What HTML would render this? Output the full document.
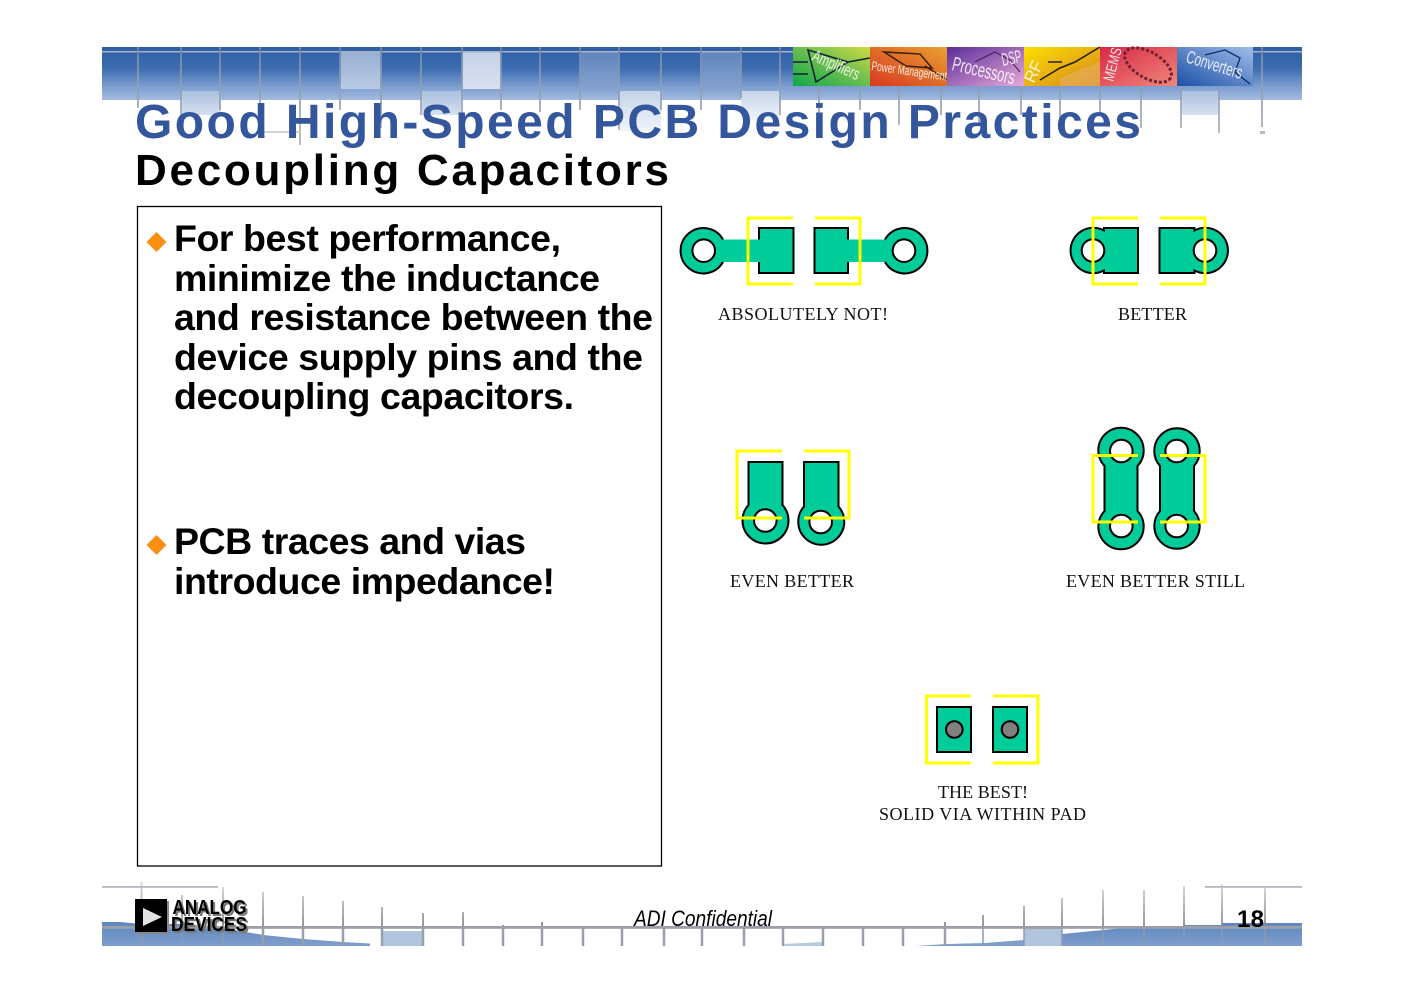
<!DOCTYPE html>
<html>
<head>
<meta charset="utf-8">
<style>
html,body{margin:0;padding:0;background:#fff;width:1403px;height:992px;overflow:hidden}
svg{display:block}
.sans{font-family:"Liberation Sans",sans-serif}
.serif{font-family:"Liberation Serif",serif;font-size:18px;fill:#111}
.b{font-family:"Liberation Sans",sans-serif;font-weight:bold;font-size:37.5px;fill:#000}
.cu{fill:#00cc99;stroke:#000;stroke-width:2}
.fill{fill:#00cc99;stroke:none}
.edge{fill:none;stroke:#000;stroke-width:2}
.hole{fill:#fff;stroke:#000;stroke-width:2}
.y{fill:none;stroke:#ffff00;stroke-width:3}
.t{font-family:"Liberation Sans",sans-serif;fill:#fff;opacity:.85}
</style>
</head>
<body>
<svg width="1403" height="992" viewBox="0 0 1403 992" xmlns="http://www.w3.org/2000/svg">
<defs>
<linearGradient id="ban" x1="0" y1="0" x2="0" y2="1">
<stop offset="0" stop-color="#2d5ea6"/><stop offset=".4" stop-color="#3d6cb0"/><stop offset=".75" stop-color="#7d9ed0"/><stop offset="1" stop-color="#a3bbde"/>
</linearGradient>
<linearGradient id="sqA" x1="0" y1="0" x2="0" y2="1"><stop offset="0" stop-color="#98aed2"/><stop offset="1" stop-color="#b9cbe4"/></linearGradient>
<linearGradient id="sqB" x1="0" y1="0" x2="0" y2="1"><stop offset="0" stop-color="#c6d2e8"/><stop offset="1" stop-color="#d8e0ef"/></linearGradient>
<linearGradient id="sqC" x1="0" y1="0" x2="0" y2="1"><stop offset="0" stop-color="#5f84bc"/><stop offset="1" stop-color="#86a3cf"/></linearGradient>
<linearGradient id="sqD" x1="0" y1="0" x2="0" y2="1"><stop offset="0" stop-color="#a9bfdf"/><stop offset="1" stop-color="#d6e0ef"/></linearGradient>
<linearGradient id="sqE" x1="0" y1="0" x2="0" y2="1"><stop offset="0" stop-color="#c6d4e8"/><stop offset="1" stop-color="#f0f4fa"/></linearGradient>
<linearGradient id="ln" gradientUnits="userSpaceOnUse" x1="0" y1="882" x2="0" y2="927"><stop offset="0" stop-color="#d8dadd"/><stop offset="1" stop-color="#85888e"/></linearGradient>
<linearGradient id="hang" gradientUnits="userSpaceOnUse" x1="0" y1="47" x2="0" y2="135"><stop offset="0" stop-color="#6f88ae"/><stop offset=".6" stop-color="#98a5b8"/><stop offset="1" stop-color="#b0b5bc"/></linearGradient>
<linearGradient id="fblue" gradientUnits="userSpaceOnUse" x1="0" y1="922" x2="0" y2="946"><stop offset="0" stop-color="#5c86be"/><stop offset="1" stop-color="#7f9fcb"/></linearGradient>
<linearGradient id="th1" x1="0" y1="1" x2="1" y2="0"><stop offset="0" stop-color="#10a848"/><stop offset=".55" stop-color="#70c050"/><stop offset="1" stop-color="#d0dc40"/></linearGradient>
<linearGradient id="th2" x1="0" y1="1" x2="1" y2="0"><stop offset="0" stop-color="#d83820"/><stop offset="1" stop-color="#e8a030"/></linearGradient>
<linearGradient id="th3" x1="0" y1="0" x2="1" y2="1"><stop offset="0" stop-color="#5a2d98"/><stop offset="1" stop-color="#e8a8d8"/></linearGradient>
<linearGradient id="th4" x1="0" y1="0" x2="1" y2="1"><stop offset="0" stop-color="#fbe000"/><stop offset="1" stop-color="#d88420"/></linearGradient>
<linearGradient id="th5" x1="0" y1="0" x2="1" y2="1"><stop offset="0" stop-color="#d82848"/><stop offset="1" stop-color="#f08878"/></linearGradient>
<linearGradient id="th6" x1="0" y1="1" x2="1" y2="0"><stop offset="0" stop-color="#1c50a8"/><stop offset="1" stop-color="#a0bce8"/></linearGradient>
</defs>

<!-- Header banner -->
<rect x="102" y="47" width="1200" height="53" fill="url(#ban)"/>
<rect x="341" y="52" width="40" height="37" fill="url(#sqA)"/>
<rect x="462" y="52" width="39" height="37" fill="url(#sqB)"/>
<rect x="581" y="52" width="38" height="37" fill="url(#sqC)"/>
<rect x="700" y="52" width="41" height="37" fill="url(#sqC)"/>
<rect x="182" y="91" width="39" height="24" fill="url(#sqD)"/>
<rect x="422" y="91" width="39" height="24" fill="url(#sqD)"/>
<rect x="620" y="91" width="41" height="40" fill="url(#sqE)"/>
<rect x="741" y="91" width="39" height="29" fill="url(#sqE)"/>
<rect x="1182" y="91" width="36" height="24" fill="url(#sqD)"/>
<rect x="102" y="51" width="1200" height="1.500" fill="#a8b3c4"/>
<g stroke="url(#hang)" stroke-width="1.800" fill="none">
<path d="M138 47V108M181 47V115M220 47V110M260 47V111M300 47V145M340 47V110M381 47V128M421 47V115M462 47V128M501 47V110M540 47V112M580 47V110M619 47V130M661 47V110M701 47V110M741 47V98M780 47V115M819 85V115M860 85V110M899 85V125M941 85V115M979 85V125M1021 85V115M1060 85V120M1100 85V115M1141 85V128M1181 85V128M1219 85V133M1262 47V127"/>
</g>
<path d="M262 132H300" stroke="#c8ccd2" stroke-width="1.800"/>
<rect x="1260" y="131" width="5" height="3" fill="#b4bac4"/>

<!-- Product thumbnails -->
<g>
<rect x="793" y="47" width="77" height="39" fill="url(#th1)"/>
<path d="M793 62H808M793 74H808M808 50L848 62L816 82Z M848 62L870 58" fill="none" stroke="#123" stroke-width="1.600"/>
<text class="t" font-size="17" transform="translate(811,60) rotate(24)" textLength="50" lengthAdjust="spacingAndGlyphs">Amplifiers</text>
<rect x="870" y="47" width="77" height="39" fill="url(#th2)"/>
<path d="M884 52L920 54L932 68L906 66Z M925 66L947 80" fill="none" stroke="#402010" stroke-width="1.600"/>
<text class="t" font-size="13" transform="translate(871,70) rotate(8)" textLength="76" lengthAdjust="spacingAndGlyphs">Power Management</text>
<rect x="947" y="47" width="77" height="39" fill="url(#th3)"/>
<path d="M975 62L995 52L1010 60L1020 72" fill="none" stroke="#402060" stroke-width="1"/>
<text class="t" font-size="20" transform="translate(951,70) rotate(13)" textLength="64" lengthAdjust="spacingAndGlyphs">Processors</text>
<text class="t" font-size="18" transform="translate(1003,66) rotate(-12)" textLength="20" lengthAdjust="spacingAndGlyphs">DSP</text>
<rect x="1024" y="47" width="76" height="39" fill="url(#th4)"/>
<path d="M1040 80L1060 68L1075 62L1100 47M1048 62H1062" fill="none" stroke="#222" stroke-width="1.600"/>
<path d="M1060 78L1100 62V86H1060Z" fill="#e8b060" opacity=".6"/>
<text class="t" font-size="17" transform="translate(1034,84) rotate(-65)" textLength="22" lengthAdjust="spacingAndGlyphs">RF</text>
<rect x="1100" y="47" width="77" height="39" fill="url(#th5)"/>
<ellipse cx="1148" cy="65" rx="26" ry="13" transform="rotate(30 1148 65)" fill="none" stroke="#702030" stroke-width="3" stroke-dasharray="3 2"/>
<text class="t" font-size="15" transform="translate(1113,82) rotate(-75)" textLength="34" lengthAdjust="spacingAndGlyphs">MEMS</text>
<rect x="1177" y="47" width="76" height="39" fill="url(#th6)"/>
<path d="M1205 55L1225 50L1240 58L1235 72L1250 84" fill="none" stroke="#103070" stroke-width="1.400"/>
<text class="t" font-size="18" transform="translate(1185,62) rotate(17)" textLength="58" lengthAdjust="spacingAndGlyphs">Converters</text>
</g>

<!-- Titles -->
<text class="sans" x="135" y="138" font-size="48" font-weight="bold" fill="#34569c" textLength="1006" lengthAdjust="spacing">Good High-Speed PCB Design Practices</text>
<text class="sans" x="135" y="185" font-size="44" font-weight="bold" fill="#000" textLength="534" lengthAdjust="spacing">Decoupling Capacitors</text>

<!-- Text panel -->
<rect x="137.500" y="206.500" width="524" height="659.500" fill="none" stroke="#000" stroke-width="1.300"/>
<polygon points="156.500,232 166.500,242 156.500,252 146.500,242" fill="#fb8f14"/>
<polygon points="156.500,535 166.500,545 156.500,555 146.500,545" fill="#fb8f14"/>
<text class="b" x="174" y="251" textLength="387" lengthAdjust="spacing">For best performance,</text>
<text class="b" x="174" y="291" textLength="426" lengthAdjust="spacing">minimize the inductance</text>
<text class="b" x="174" y="330" textLength="479" lengthAdjust="spacing">and resistance between the</text>
<text class="b" x="174" y="370" textLength="469" lengthAdjust="spacing">device supply pins and the</text>
<text class="b" x="174" y="409" textLength="400" lengthAdjust="spacing">decoupling capacitors.</text>
<text class="b" x="174" y="554" textLength="352" lengthAdjust="spacing">PCB traces and vias</text>
<text class="b" x="174" y="594" textLength="381" lengthAdjust="spacing">introduce impedance!</text>

<!-- Diagram 1: ABSOLUTELY NOT -->
<path class="fill" d="M723 239.500H759V228H793.500V273H759V262H723A22.700 22.700 0 1 1 723 239.500Z"/>
<path class="edge" d="M723 239.500A22.700 22.700 0 1 0 723 262M759 239.500V228H793.500V273H759V262"/>
<circle class="hole" cx="703.700" cy="250.700" r="11.300"/>
<path class="fill" d="M885 239.500H848V228H814.500V273H848V262H885A22.700 22.700 0 1 0 885 239.500Z"/>
<path class="edge" d="M885 239.500A22.700 22.700 0 1 1 885 262M848 239.500V228H814.500V273H848V262"/>
<circle class="hole" cx="904" cy="250.700" r="11.300"/>
<path class="y" d="M793 218H748V284H793"/>
<path class="y" d="M815 218H860V284H815"/>
<text class="serif" x="718" y="320" textLength="170" lengthAdjust="spacing">ABSOLUTELY NOT!</text>

<!-- Diagram 2: BETTER -->
<path class="cu" d="M1104 228H1138V273H1104V270.500A22.700 22.700 0 1 1 1104 230.500Z"/>
<circle class="hole" cx="1093" cy="250.500" r="11.300"/>
<path class="cu" d="M1194.500 228H1159.500V273H1194.500V270.500A22.700 22.700 0 1 0 1194.500 230.500Z"/>
<circle class="hole" cx="1205" cy="250.500" r="11.300"/>
<path class="y" d="M1138 218H1093V284H1138"/>
<path class="y" d="M1160 218H1205V284H1160"/>
<text class="serif" x="1118" y="320" textLength="69" lengthAdjust="spacing">BETTER</text>

<!-- Diagram 3: EVEN BETTER -->
<path class="cu" d="M748.500 462H782.500V505A23 23 0 1 1 748.500 505Z"/>
<circle class="hole" cx="765.300" cy="520.500" r="11.300"/>
<path class="cu" d="M804 462H838.500V506.500A23 23 0 1 1 804 506.500Z"/>
<circle class="hole" cx="820.700" cy="522" r="11.300"/>
<path class="y" d="M782 451H737V518H782"/>
<path class="y" d="M804 451H849V518H804"/>
<text class="serif" x="730" y="587" textLength="124" lengthAdjust="spacing">EVEN BETTER</text>

<!-- Diagram 4: EVEN BETTER STILL -->
<path class="cu" d="M1104.500 466A22.700 22.700 0 1 1 1137.500 466V511A22.700 22.700 0 1 1 1104.500 511Z"/>
<circle class="hole" cx="1121.300" cy="451" r="11.300"/>
<circle class="hole" cx="1121.300" cy="526" r="11.300"/>
<path class="cu" d="M1160 466A22.700 22.700 0 1 1 1194 466V511A22.700 22.700 0 1 1 1160 511Z"/>
<circle class="hole" cx="1176.700" cy="451" r="11.300"/>
<circle class="hole" cx="1176.700" cy="526" r="11.300"/>
<path class="y" d="M1138 455.500H1093V522H1138"/>
<path class="y" d="M1160 455.500H1205V522H1160"/>
<text class="serif" x="1066" y="587" textLength="179" lengthAdjust="spacing">EVEN BETTER STILL</text>

<!-- Diagram 5: THE BEST -->
<rect class="cu" x="937" y="707" width="34" height="45"/>
<circle cx="954.300" cy="729.500" r="8.300" fill="#808080" stroke="#000" stroke-width="2"/>
<rect class="cu" x="993" y="707" width="34" height="45"/>
<circle cx="1010" cy="729.500" r="8.300" fill="#808080" stroke="#000" stroke-width="2"/>
<path class="y" d="M971 696H926.500V763H971"/>
<path class="y" d="M993 696H1038V763H993"/>
<text class="serif" x="938" y="798" textLength="90" lengthAdjust="spacing">THE BEST!</text>
<text class="serif" x="879" y="820" textLength="207" lengthAdjust="spacing">SOLID VIA WITHIN PAD</text>

<!-- Footer -->
<path d="M102 922H120L141 924H182L223 928L263 935L303 939L343 942L370 943.500V946H102Z" fill="url(#fblue)"/>
<path d="M382 931H423V946H382Z" fill="#b0c4de"/>
<path d="M783 944L823 942V946H783Z" fill="#b8c9e2"/>
<path d="M916 946L947 944L985 943L1024 940V946Z" fill="#7f9fcb"/>
<rect x="1024" y="927" width="38" height="19" fill="#b0c4de"/>
<path d="M1062 934L1103 930L1145 926H1184V925H1222V923H1302V946H1062Z" fill="url(#fblue)"/>
<g stroke="url(#ln)" stroke-width="1.800" fill="none">
<path d="M141.500 882V927M182 895V927M223 887V927M263 892V927M303 896V927M343 901V927M382 907V927M423 913V927M463 912V927M503 925V927M542 922V927M945 922V927M983 915V927M1024 906V927M1062 898V927M1103 890V927M1144 890V927M1184 886V927M1222 884V927M1265 887V927"/>
</g>
<g stroke="#98a0ac" stroke-width="2.500" fill="none">
<path d="M263 927V946M303 927V946M343 927V946M382 927V946M423 927V946M463 927V946M503 927V946M542 927V946M583 927V946M622 927V946M664 927V946M702 927V946M744 927V946M783 927V946M823 927V946M863 927V946M903 927V946M945 927V946"/>
<path d="M141.500 927V946M182 927V946M223 927V946M983 927V946M1024 927V946M1062 927V946M1103 927V946M1144 927V946M1184 927V946M1222 927V946M1265 927V946" stroke="#8a9ab4" stroke-width="1.500"/>
</g>
<rect x="102" y="926" width="1200" height="2.800" fill="#9c9fa6"/>
<rect x="102" y="886" width="116" height="1.800" fill="#b4b8be"/>
<rect x="1205" y="886" width="97" height="1.800" fill="#b4b8be"/>

<!-- Logo -->
<rect x="137" y="901" width="32" height="33" fill="#888"/>
<rect x="135" y="899" width="32" height="33" fill="#000"/>
<polygon points="143,908 143,926 162,917" fill="#e4e4e4"/>
<g class="sans" font-weight="bold" font-size="20">
<text x="174.500" y="916" fill="#777" textLength="74" lengthAdjust="spacingAndGlyphs">ANALOG</text>
<text x="173" y="933" fill="#777" textLength="76" lengthAdjust="spacingAndGlyphs">DEVICES</text>
<text x="172.500" y="914" fill="#000" textLength="74" lengthAdjust="spacingAndGlyphs">ANALOG</text>
<text x="171" y="931" fill="#000" textLength="76" lengthAdjust="spacingAndGlyphs">DEVICES</text>
</g>

<text class="sans" x="634" y="926" font-size="22" font-style="italic" fill="#000" textLength="138" lengthAdjust="spacingAndGlyphs">ADI Confidential</text>
<text class="sans" x="1237" y="927" font-size="24" font-weight="bold" fill="#000" textLength="27" lengthAdjust="spacing">18</text>
</svg>
</body>
</html>
